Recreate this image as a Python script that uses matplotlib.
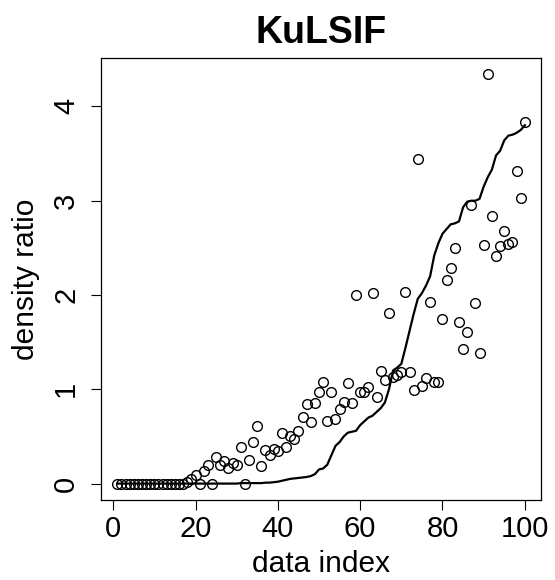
import numpy as np
import matplotlib
matplotlib.use("Agg")
import matplotlib.pyplot as plt

plt.rcParams['font.family'] = ['Liberation Sans', 'DejaVu Sans']

# estimated density ratio (points), index 1..100
estimate = [0, 0, 0, 0, 0, 0, 0, 0, 0, 0,
            0, 0, 0, 0, 0, 0, 0, 0.02, 0.05, 0.09,
            0, 0.13, 0.2, 0, 0.28, 0.2, 0.24, 0.17, 0.22, 0.2,
            0.39, 0, 0.255, 0.44, 0.61, 0.19, 0.355, 0.3, 0.37, 0.345,
            0.54, 0.39, 0.51, 0.475, 0.56, 0.71, 0.84, 0.65, 0.86, 0.975,
            1.08, 0.66, 0.975, 0.69, 0.79, 0.87, 1.07, 0.86, 2.0, 0.97,
            0.97, 1.02, 2.02, 0.915, 1.19, 1.10, 1.81, 1.13, 1.15, 1.18,
            2.03, 1.18, 0.99, 3.44, 1.04, 1.12, 1.93, 1.08, 1.08, 1.75,
            2.16, 2.29, 2.50, 1.71, 1.43, 1.61, 2.95, 1.91, 1.38, 2.53,
            4.34, 2.84, 2.41, 2.52, 2.68, 2.54, 2.56, 3.32, 3.03, 3.84]

# true density ratio (line)
true_ratio = [0, 0, 0, 0, 0, 0, 0, 0, 0, 0,
              0, 0, 0, 0, 0, 0, 0, 0, 0, 0,
              0, 0, 0, 0, 0, 0, 0, 0, 0, 0,
              0.005, 0.005, 0.005, 0.005, 0.005, 0.005, 0.01, 0.01, 0.015, 0.02,
              0.03, 0.04, 0.05, 0.055, 0.06, 0.065, 0.07, 0.08, 0.1, 0.15,
              0.16, 0.2, 0.3, 0.4, 0.44, 0.5, 0.54, 0.55, 0.56, 0.62,
              0.66, 0.7, 0.72, 0.76, 0.8, 0.86, 1.0, 1.2, 1.23, 1.27,
              1.44, 1.62, 1.8, 1.96, 2.02, 2.1, 2.2, 2.42, 2.55, 2.65,
              2.7, 2.75, 2.76, 2.78, 2.93, 2.99, 3.0, 3.0, 3.02, 3.15,
              3.25, 3.33, 3.48, 3.53, 3.64, 3.69, 3.7, 3.72, 3.75, 3.8]

index = np.arange(1, len(estimate) + 1)

fig = plt.figure(figsize=(5.55, 5.8), dpi=100)
ax = fig.add_axes([0.182, 0.138, 0.793, 0.762])

ax.plot(index, estimate, linestyle='none', marker='o', markersize=7,
        markerfacecolor='none', markeredgecolor='black', markeredgewidth=1.0)
ax.plot(index, true_ratio, color='black', linewidth=1.6)

# R-style 4% axis extension
allv = estimate + true_ratio
xpad = 0.04 * (index.max() - index.min())
ypad = 0.04 * (max(allv) - min(allv))
ax.set_xlim(index.min() - xpad, index.max() + xpad)
ax.set_ylim(min(allv) - ypad, max(allv) + ypad)

ax.set_xticks([0, 20, 40, 60, 80, 100])
ax.set_yticks([0, 1, 2, 3, 4])
ax.tick_params(axis='both', direction='out', length=7, width=0.8, labelsize=21)
ax.tick_params(axis='x', pad=4)
ax.tick_params(axis='y', pad=8)
for lab in ax.get_yticklabels():
    lab.set_rotation(90)
    lab.set_va('center')

for s in ax.spines.values():
    s.set_linewidth(0.9)

ax.set_title('KuLSIF', fontsize=27, fontweight='bold', pad=11)
ax.set_xlabel('data index', fontsize=21.5, labelpad=5)
ax.set_ylabel('density ratio', fontsize=21.5, labelpad=9)

fig.savefig('out.png', dpi=100)
